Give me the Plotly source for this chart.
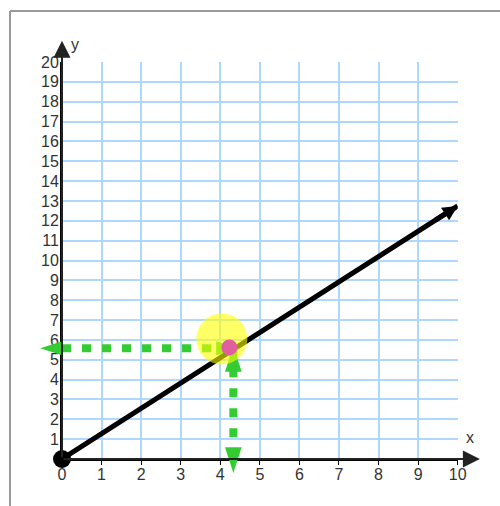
import plotly.graph_objects as go

# ---- data ----
x_ticks = list(range(0, 11))
y_ticks = list(range(1, 21))

line_x = [0, 10]
line_y = [0, 12.75]

point_x = [4.23]
point_y = [5.62]

highlight_x = [4.04]
highlight_y = [6.05]

h_guide_x = [0, 4.23]
h_guide_y = [5.58, 5.58]
v_guide_x = [4.33, 4.33]
v_guide_y = [5.58, 0]

h_arrow_x = [-0.55, 4.45]
h_arrow_y = [5.58, 5.58]
h_arrow_angle = [-90, 90]
v_arrow_x = [4.33, 4.33]
v_arrow_y = [-0.7, 5.69]
v_arrow_angle = [180, 0]

GREEN = "#33cc33"
TXT = "#333333"
FONT = "Liberation Sans, Arial, sans-serif"

# ---- layout geometry (page pixels) ----
W, H = 500, 506
L, R = 62.0, 457.7     # pixel of x=0 and x=10
T, B = 62.0, 459.0     # pixel of y=20 and y=0
X0, X1 = 0, 10
Y0, Y1 = 0, 20
ppx = (R - L) / (X1 - X0)
ppy = (B - T) / (Y1 - Y0)
x2_range = [X0 - L / ppx, X1 + (W - R) / ppx]
y2_range = [Y0 - (H - B) / ppy, Y1 + T / ppy]

fig = go.Figure()

# main line (on the grid axes)
fig.add_trace(go.Scatter(x=line_x, y=line_y, mode="lines", xaxis="x", yaxis="y",
                         line=dict(color="black", width=5),
                         hoverinfo="skip", showlegend=False))

# overlay layer (full-figure axes with the same scale)
ov = dict(xaxis="x2", yaxis="y2", hoverinfo="skip", showlegend=False)
fig.add_trace(go.Scatter(x=h_guide_x, y=h_guide_y, mode="lines",
                         line=dict(color=GREEN, width=8, dash="9px,11px"), **ov))
fig.add_trace(go.Scatter(x=v_guide_x, y=v_guide_y, mode="lines",
                         line=dict(color=GREEN, width=8, dash="9px,11px"), **ov))
fig.add_trace(go.Scatter(x=h_arrow_x, y=h_arrow_y, mode="markers",
                         marker=dict(symbol="arrow", size=23, angle=h_arrow_angle,
                                     color=GREEN, line=dict(width=0)), **ov))
fig.add_trace(go.Scatter(x=v_arrow_x, y=v_arrow_y, mode="markers",
                         marker=dict(symbol="arrow", size=27, angle=v_arrow_angle,
                                     color=GREEN, line=dict(width=0)), **ov))
fig.add_trace(go.Scatter(x=highlight_x, y=highlight_y, mode="markers",
                         marker=dict(size=51, color="yellow", opacity=0.6, line=dict(width=0)), **ov))
fig.add_trace(go.Scatter(x=point_x, y=point_y, mode="markers",
                         marker=dict(size=16, color="#e0609e", line=dict(width=0)), **ov))
fig.add_trace(go.Scatter(x=[line_x[0]], y=[line_y[0]], mode="markers",
                         marker=dict(size=18, color="black", line=dict(width=0)), **ov))

# arrowhead at end of main line
slope = (line_y[1] - line_y[0]) / (line_x[1] - line_x[0])
fig.add_annotation(x=line_x[1], y=line_y[1], ax=line_x[1] - 0.6, ay=line_y[1] - 0.6 * slope,
                   xref="x2", yref="y2", axref="x2", ayref="y2", text="",
                   showarrow=True, arrowhead=2, arrowwidth=5, arrowsize=0.6, arrowcolor="black")

# axis arrows
fig.add_annotation(x=10.56, y=0, ax=0, ay=0, xref="x2", yref="y2", axref="x2", ayref="y2",
                   text="", showarrow=True, arrowhead=2, arrowwidth=2, arrowsize=1.7,
                   arrowcolor="#222222")
fig.add_annotation(x=0, y=21.07, ax=0, ay=0, xref="x2", yref="y2", axref="x2", ayref="y2",
                   text="", showarrow=True, arrowhead=2, arrowwidth=2, arrowsize=1.7,
                   arrowcolor="#222222")

# axis names
fig.add_annotation(x=10.3, y=1.1, xref="x2", yref="y2", text="x", showarrow=False,
                   font=dict(size=16, color=TXT, family=FONT))
fig.add_annotation(x=0.33, y=20.9, xref="x2", yref="y2", text="y", showarrow=False,
                   font=dict(size=16, color=TXT, family=FONT))

# frame (top + left)
fx = 10 / W
fy = 1 - 11 / H
fig.add_shape(type="line", xref="paper", yref="paper", x0=fx, x1=fx, y0=-0.05, y1=fy,
              line=dict(color="#9a9a9a", width=2))
fig.add_shape(type="line", xref="paper", yref="paper", x0=fx, x1=1.05, y0=fy, y1=fy,
              line=dict(color="#9a9a9a", width=2))

axis_common = dict(showgrid=True, gridcolor="#b0d8ff", gridwidth=1.5, zeroline=False,
                   showline=True, linecolor="black", linewidth=2, fixedrange=True,
                   automargin=False)

fig.update_layout(
    width=W, height=H,
    margin=dict(l=0, r=0, t=0, b=0, pad=0, autoexpand=False),
    paper_bgcolor="white", plot_bgcolor="rgba(0,0,0,0)",
    xaxis=dict(domain=[L / W, R / W], range=[X0, X1], tickvals=x_ticks,
               ticks="outside", ticklen=4, tickcolor="black", tickwidth=1,
               tickfont=dict(size=16, color=TXT, family=FONT), ticklabelstandoff=-4,
               anchor="y", **axis_common),
    yaxis=dict(domain=[1 - B / H, 1 - T / H], range=[Y0, Y1], tickvals=y_ticks, ticks="",
               tickfont=dict(size=16, color=TXT, family=FONT), ticklabelstandoff=-2,
               anchor="x", **axis_common),
    xaxis2=dict(domain=[0, 1], range=x2_range, visible=False, anchor="y2",
                fixedrange=True, automargin=False),
    yaxis2=dict(domain=[0, 1], range=y2_range, visible=False, anchor="x2",
                fixedrange=True, automargin=False),
    showlegend=False,
)

fig.write_html("out.html", config={"displayModeBar": False},
               post_script="document.body.style.margin='0';document.body.style.overflow='hidden';")
